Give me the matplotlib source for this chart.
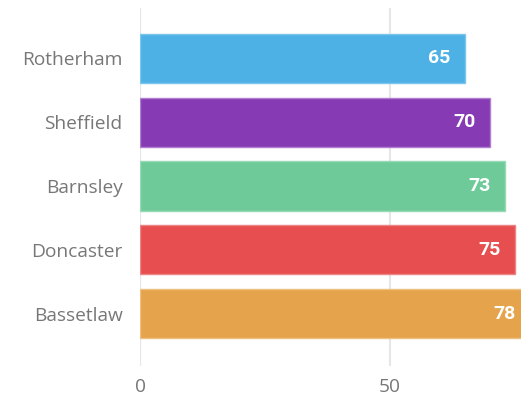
import matplotlib.pyplot as plt

# districts, top to bottom
districts = ['Rotherham', 'Sheffield', 'Barnsley', 'Doncaster', 'Bassetlaw']
scores = [65, 70, 73, 75, 78]
colors = ['#4db1e5', '#863ab4', '#6ecb99', '#e64e4f', '#e5a34b']
edges = ['#7cc6ec', '#b07fd0', '#97dab5', '#ef8485', '#efc180']
xticks = [0, 50]

fig = plt.figure(figsize=(5.21, 3.98), dpi=100)
ax = fig.add_axes([140 / 521, 32 / 398, 381 / 521, 358 / 398])

pos = list(range(len(districts)))
ax.barh(pos, scores, height=0.77, color=colors, edgecolor=edges,
        linewidth=1, zorder=2)

for y, v in zip(pos, scores):
    ax.text(v - 2.9, y, str(v), ha='right', va='center', color='white',
            fontsize=14, fontweight='bold', family='Roboto', zorder=3,
            clip_on=False)

ax.set_xlim(0, 76.2)
ax.set_ylim(4.82, -0.79)
ax.set_yticks(pos)
ax.set_yticklabels(districts)
ax.set_xticks(xticks)

ax.grid(axis='x', color='#e6e6e6', linewidth=1.5, zorder=0)
ax.grid(axis='y', visible=False)
for side in ['top', 'right', 'bottom', 'left']:
    ax.spines[side].set_visible(False)

ax.tick_params(axis='both', length=0, labelcolor='#777777', labelsize=13.8)
ax.tick_params(axis='y', pad=12.5)
ax.tick_params(axis='x', pad=9)
for lbl in ax.get_xticklabels() + ax.get_yticklabels():
    lbl.set_family('Open Sans')

fig.savefig('out.png', dpi=100)
